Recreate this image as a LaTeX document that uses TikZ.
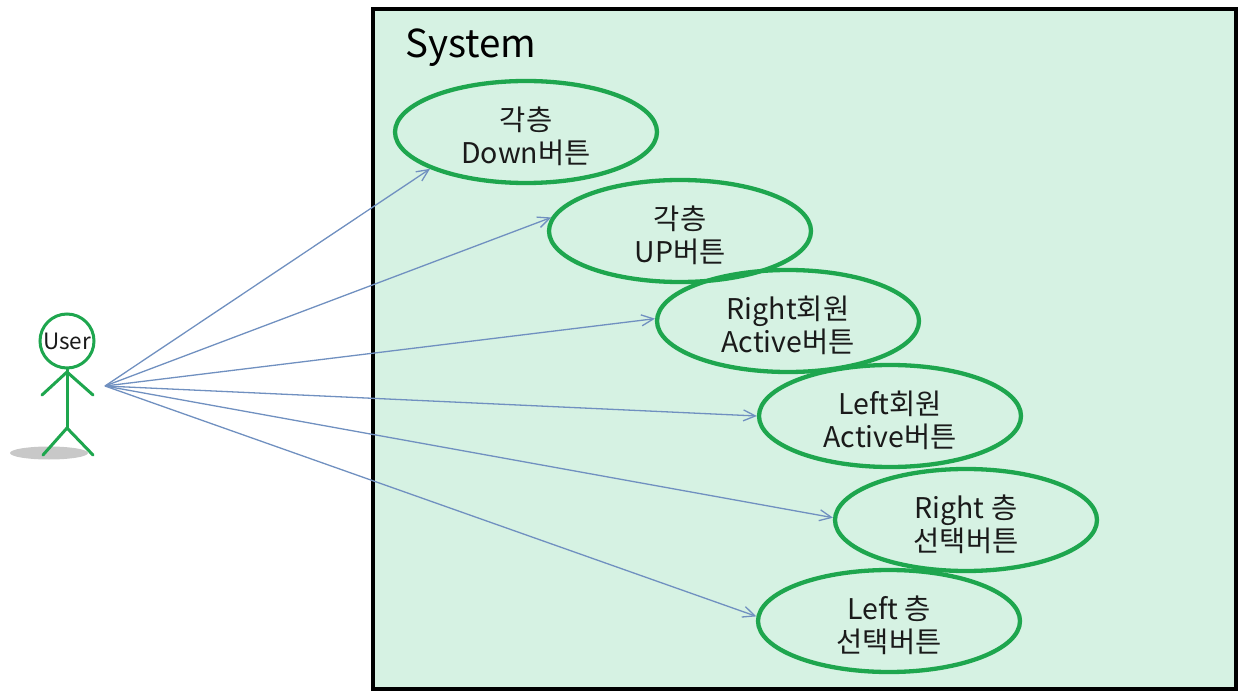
\documentclass[tikz,border=0pt]{standalone}
\usepackage{fontspec}
\setmainfont{Noto Sans CJK KR}
\usetikzlibrary{shapes.geometric,arrows.meta}
\definecolor{bgmint}{HTML}{D6F2E3}
\definecolor{ucgreen}{HTML}{1EA64E}
\definecolor{arrblue}{HTML}{7090C0}
\definecolor{shadowgray}{HTML}{C8C8C8}
\definecolor{txtdark}{HTML}{1A1A1A}
\tikzset{
  usecase/.style={ellipse, draw=ucgreen, line width=4.3pt, minimum width=262pt, minimum height=102pt, inner sep=0pt},
  uctext/.style={align=center, text=txtdark, inner sep=0pt, font=\fontsize{28.5}{33}\selectfont},
  assoc/.style={draw=arrblue, line width=1.3pt, -{Straight Barb[length=12pt,width=11pt,line width=1.3pt]}},
  actorline/.style={draw=ucgreen, line width=3pt, line cap=round}
}
\begin{document}
\begin{tikzpicture}[x=1pt,y=-1pt]
\useasboundingbox (0,0) rectangle (1242,692);
% system boundary
\draw[fill=bgmint, line width=4pt] (373,9) rectangle (1236,689);
\node[anchor=base west, font=\fontsize{38.5}{40}\selectfont, text=black, inner sep=0pt] (sys) at (405,58) {System};
% use cases
\node[usecase] (e1) at (526,132) {};
\node[usecase] (e2) at (680,231) {};
\node[usecase] (e3) at (788,321) {};
\node[usecase] (e4) at (890,416) {};
\node[usecase] (e5) at (966,520) {};
\node[usecase] (e6) at (889,621) {};
\node[uctext] (t1) at ([yshift=-4pt]e1.center) {각층\\Down버튼};
\node[uctext] (t2) at ([yshift=-4pt]e2.center) {각층\\UP버튼};
\node[uctext] (t3) at ([yshift=-4pt]e3.center) {Right회원\\Active버튼};
\node[uctext] (t4) at ([yshift=-4pt]e4.center) {Left회원\\Active버튼};
\node[uctext] (t5) at ([yshift=-4pt]e5.center) {Right 층\\선택버튼};
\node[uctext] (t6) at ([yshift=-4pt]e6.center) {Left 층\\선택버튼};
% actor
\fill[shadowgray] (49,453) ellipse [x radius=39pt, y radius=6.5pt];
\node[circle, draw=ucgreen, line width=3pt, minimum size=54pt, inner sep=0pt, font=\fontsize{22.5}{23}\selectfont, text=txtdark] (user) at (67,341) {User};
\coordinate (hip) at (67,428);
\coordinate (neck) at (67,372);
\coordinate (lh) at (42,395);
\coordinate (rh) at (93,395);
\coordinate (lf) at (43,455);
\coordinate (rf) at (93,455);
\draw[actorline] (user.south) -- (hip);
\draw[actorline] (lh) -- (neck) -- (rh);
\draw[actorline] (lf) -- (hip) -- (rf);
% associations
\coordinate (src) at (105,386);
\draw[assoc] (src) -- (e1.201);
\draw[assoc] (src) -- (e2.174);
\draw[assoc] (src) -- (e3.179);
\draw[assoc] (src) -- (e4.180);
\draw[assoc] (src) -- (e5.179);
\draw[assoc] (src) -- (e6.178);
\end{tikzpicture}
\end{document}
